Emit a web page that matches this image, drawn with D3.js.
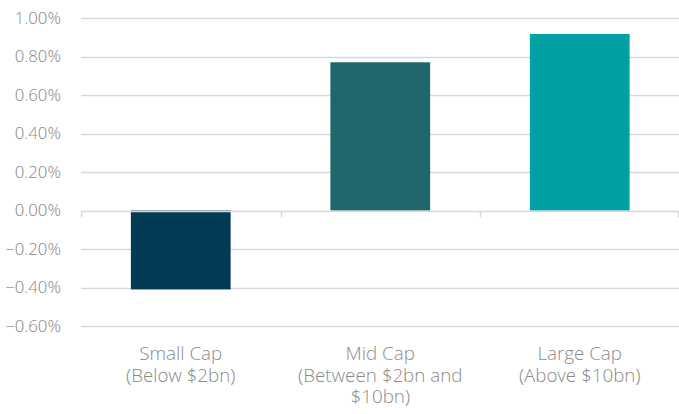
<!DOCTYPE html>
<html>
<head>
<meta charset="utf-8">
<script src="https://cdn.jsdelivr.net/npm/d3@7"></script>
<style>
    body { margin: 0; background: #fff; }
    svg { display: block; font-family: 'Open Sans Light', 'Open Sans', sans-serif; font-weight: 300; }
</style>
</head>
<body>
<div id="chart"></div>
<script>
const categories = ['Small Cap (Below $2bn)', 'Mid Cap (Between $2bn and $10bn)', 'Large Cap (Above $10bn)'];
const labelLines = [
    ['Small Cap', '(Below $2bn)'],
    ['Mid Cap', '(Between $2bn and', '$10bn)'],
    ['Large Cap', '(Above $10bn)']
];
const values = [-0.41, 0.77, 0.917];
const yTicks = [-0.6, -0.4, -0.2, 0, 0.2, 0.4, 0.6, 0.8, 1.0];
const colors = ['#033b57', '#1f676c', '#01a0a3'];

const width = 679;
const height = 414;
const margin = { top: 18, right: 0, bottom: 88, left: 81 };

const svg = d3.select('#chart')
    .append('svg')
    .attr('width', width)
    .attr('height', height);

const x = d3.scaleBand()
    .domain(categories)
    .range([margin.left, width - margin.right + 0.5])
    .paddingInner(0)
    .paddingOuter(0);

const y = d3.scaleLinear()
    .domain([-0.6, 1.0])
    .range([height - margin.bottom, margin.top]);

// gridlines
svg.append('g')
    .selectAll('line')
    .data(yTicks.filter(d => d !== 0))
    .join('line')
    .attr('x1', margin.left)
    .attr('x2', width)
    .attr('y1', d => Math.round(y(d)) + 0.5)
    .attr('y2', d => Math.round(y(d)) + 0.5)
    .attr('stroke', '#d3dbdf')
    .attr('stroke-width', 1.5);

// y labels
svg.append('g')
    .selectAll('text')
    .data(yTicks)
    .join('text')
    .attr('x', 61)
    .attr('y', d => y(d))
    .attr('dy', '0.35em')
    .attr('text-anchor', 'end')
    .attr('fill', '#8a8a8a')
    .style('font-size', '16.8px')
    .text(d => d3.format('.2f')(d) + '%');

// bars
svg.append('g')
    .selectAll('rect')
    .data(values)
    .join('rect')
    .attr('x', (d, i) => x(categories[i]) + x.bandwidth() / 4)
    .attr('width', x.bandwidth() / 2)
    .attr('y', d => y(Math.max(0, d)))
    .attr('height', d => Math.abs(y(d) - y(0)))
    .attr('fill', (d, i) => colors[i]);

// zero axis with ticks
const axis = svg.append('g')
    .attr('transform', `translate(0,${Math.round(y(0)) + 0.5})`)
    .call(d3.axisBottom(x).tickSize(0).tickFormat(''));
axis.select('.domain').remove();
axis.append('line')
    .attr('x1', margin.left)
    .attr('x2', width)
    .attr('stroke', '#d9d9d9')
    .attr('stroke-width', 1.5);
const bounds = categories.map(c => x(c)).concat([x(categories[2]) + x.bandwidth() - 1.5]);
axis.selectAll('.bound')
    .data(bounds)
    .join('line')
    .attr('class', 'bound')
    .attr('x1', d => Math.round(d) + 0.5)
    .attr('x2', d => Math.round(d) + 0.5)
    .attr('y1', 0)
    .attr('y2', 6)
    .attr('stroke', '#d9d9d9')
    .attr('stroke-width', 1.5);

// category labels
const cat = svg.append('g')
    .selectAll('text')
    .data(categories)
    .join('text')
    .attr('x', d => x(d) + x.bandwidth() / 2)
    .attr('y', 360)
    .attr('text-anchor', 'middle')
    .attr('fill', '#8a8a8a')
    .style('font-size', '18.8px');
cat.selectAll('tspan')
    .data((d, i) => labelLines[i])
    .join('tspan')
    .attr('x', function() { return d3.select(this.parentNode).attr('x'); })
    .attr('dy', (d, i) => i === 0 ? 0 : 21.5)
    .text(d => d);
</script>
</body>
</html>
